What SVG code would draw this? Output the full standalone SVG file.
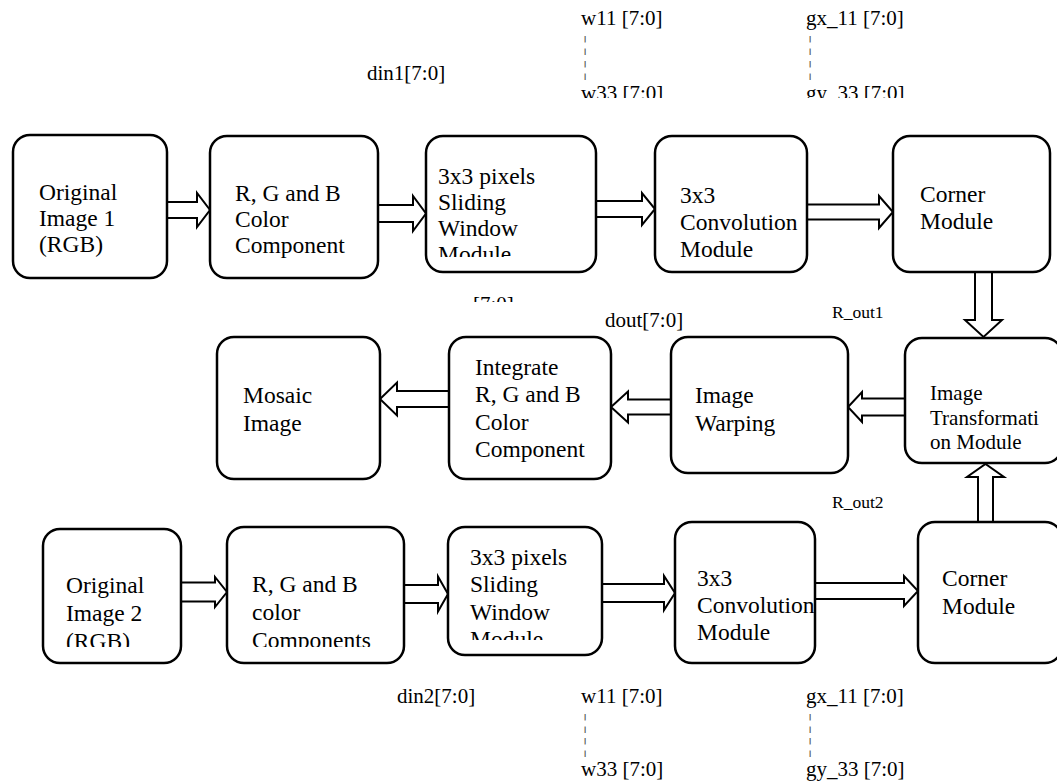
<svg xmlns="http://www.w3.org/2000/svg" width="1057" height="781" viewBox="0 0 1057 781">
<style>
.box{fill:#fff;stroke:#000;stroke-width:2.5}
.arr{fill:#fff;stroke:#000;stroke-width:2;stroke-linejoin:miter}
.t,.s,.r{font-family:"Liberation Serif","Times New Roman",serif;fill:#000}
.t{font-size:23.5px}
.s{font-size:21px}
.r{font-size:17.5px}
.bb{fill:#555}
</style>
<defs>
<clipPath id="cTop"><rect x="0" y="0" width="1057" height="98"/></clipPath>
<clipPath id="cMid"><rect x="440" y="280" width="120" height="22"/></clipPath>
<clipPath id="cC"><rect x="426" y="136" width="170" height="121"/></clipPath>
<clipPath id="cA2"><rect x="43" y="529" width="138" height="118"/></clipPath>
<clipPath id="cB2"><rect x="227" y="527" width="177" height="120"/></clipPath>
<clipPath id="cC2"><rect x="448" y="527" width="154" height="113"/></clipPath>
</defs>
<rect width="1057" height="781" fill="#fff"/>

<g id="labels">
<text class="s" x="367" y="80">din1[7:0]</text>
<g clip-path="url(#cTop)">
<text class="s"><tspan x="581" y="24.5">w11 [7:0]</tspan><tspan class="bb" x="583" y="49.5">¦</tspan><tspan class="bb" x="583" y="74.5">¦</tspan><tspan x="581" y="99.5">w33 [7:0]</tspan></text>
<text class="s"><tspan x="806" y="24.5">gx_11 [7:0]</tspan><tspan class="bb" x="808" y="49.5">¦</tspan><tspan class="bb" x="808" y="74.5">¦</tspan><tspan x="806" y="99.5">gy_33 [7:0]</tspan></text>
</g>
<g clip-path="url(#cMid)"><text class="s" x="473" y="311">[7:0]</text></g>
<text class="s" x="605" y="327">dout[7:0]</text>
<text class="r" x="832" y="318">R_out1</text>
<text class="r" x="832" y="508">R_out2</text>
<text class="s" x="397" y="703">din2[7:0]</text>
<text class="s"><tspan x="581" y="703">w11 [7:0]</tspan><tspan class="bb" x="583" y="727.5">¦</tspan><tspan class="bb" x="583" y="752">¦</tspan><tspan x="581" y="776">w33 [7:0]</tspan></text>
<text class="s"><tspan x="806" y="703">gx_11 [7:0]</tspan><tspan class="bb" x="808" y="727.5">¦</tspan><tspan class="bb" x="808" y="752">¦</tspan><tspan x="806" y="776">gy_33 [7:0]</tspan></text>
</g>

<g id="connectors">
<path class="arr" d="M167,202 L197,202 L197,193 L210,210 L197,227 L197,218 L167,218"/>
<path class="arr" d="M378,205 L413,205 L413,196 L426,213.5 L413,231 L413,222 L378,222"/>
<path class="arr" d="M596,201 L642,201 L642,193 L655,209 L642,225 L642,217 L596,217"/>
<path class="arr" d="M807,204.5 L879,204.5 L879,196 L893,212 L879,228 L879,219.5 L807,219.5"/>
<path class="arr" d="M975,272 L975,320 L965,320 L983.5,337 L1002,320 L992,320 L992,272"/>
<path class="arr" d="M905,398.5 L862,398.5 L862,392 L848,407 L862,422 L862,415.5 L905,415.5"/>
<path class="arr" d="M670,399.5 L628,399.5 L628,391.5 L611,407 L628,422.5 L628,414.5 L670,414.5"/>
<path class="arr" d="M449,391 L397,391 L397,382.5 L380,399 L397,415.5 L397,407 L449,407"/>
<path class="arr" d="M978,522 L978,477 L967,477 L985.5,464 L1004,477 L993,477 L993,522"/>
<path class="arr" d="M181,582.5 L215,582.5 L215,577 L227,592 L215,607 L215,601.5 L181,601.5"/>
<path class="arr" d="M404,585 L438,585 L438,576.5 L448,594 L438,611.5 L438,603 L404,603"/>
<path class="arr" d="M602,584 L664,584 L664,576 L675,593 L664,610 L664,602 L602,602"/>
<path class="arr" d="M815,583 L904,583 L904,576 L918,591 L904,606 L904,599 L815,599"/>
</g>

<g id="orig1">
<rect class="box" x="13" y="135" width="154" height="143" rx="17"/>
<text class="t"><tspan x="39" y="200">Original</tspan><tspan x="39" y="226">Image 1</tspan><tspan x="39" y="252">(RGB)</tspan></text>
</g>
<g id="rgb1">
<rect class="box" x="210" y="136" width="168" height="142" rx="17"/>
<text class="t"><tspan x="235" y="201">R, G and B</tspan><tspan x="235" y="227">Color</tspan><tspan x="235" y="253">Component</tspan></text>
</g>
<g id="slide1">
<rect class="box" x="426" y="136" width="170" height="136" rx="17"/>
<g clip-path="url(#cC)"><text class="t"><tspan x="438" y="184">3x3 pixels</tspan><tspan x="438" y="210">Sliding</tspan><tspan x="438" y="236">Window</tspan><tspan x="438" y="262">Module</tspan></text></g>
</g>
<g id="conv1">
<rect class="box" x="655" y="136" width="152" height="136" rx="17"/>
<text class="t"><tspan x="680" y="203">3x3</tspan><tspan x="680" y="230">Convolution</tspan><tspan x="680" y="257">Module</tspan></text>
</g>
<g id="corner1">
<rect class="box" x="893" y="136" width="157" height="136" rx="17"/>
<text class="t"><tspan x="920" y="202">Corner</tspan><tspan x="920" y="229">Module</tspan></text>
</g>

<g id="mosaic">
<rect class="box" x="217" y="337" width="163" height="142" rx="17"/>
<text class="t"><tspan x="243" y="403">Mosaic</tspan><tspan x="243" y="431">Image</tspan></text>
</g>
<g id="integrate">
<rect class="box" x="449" y="337" width="162" height="142" rx="17"/>
<text class="t"><tspan x="475" y="375">Integrate</tspan><tspan x="475" y="402">R, G and B</tspan><tspan x="475" y="430">Color</tspan><tspan x="475" y="457">Component</tspan></text>
</g>
<g id="warping">
<rect class="box" x="671" y="337" width="177" height="136" rx="17"/>
<text class="t"><tspan x="695" y="403">Image</tspan><tspan x="695" y="431">Warping</tspan></text>
</g>
<g id="transform">
<rect class="box" x="905" y="338" width="157" height="125" rx="17"/>
<text class="s"><tspan x="930" y="400">Image</tspan><tspan x="930" y="425">Transformati</tspan><tspan x="930" y="449">on Module</tspan></text>
</g>

<g id="orig2">
<rect class="box" x="43" y="529" width="138" height="134" rx="17"/>
<g clip-path="url(#cA2)"><text class="t"><tspan x="66" y="593">Original</tspan><tspan x="66" y="621">Image 2</tspan><tspan x="66" y="649">(RGB)</tspan></text></g>
</g>
<g id="rgb2">
<rect class="box" x="227" y="527" width="177" height="136" rx="17"/>
<g clip-path="url(#cB2)"><text class="t"><tspan x="252" y="592">R, G and B</tspan><tspan x="252" y="620">color</tspan><tspan x="252" y="648">Components</tspan></text></g>
</g>
<g id="slide2">
<rect class="box" x="448" y="527" width="154" height="128" rx="17"/>
<g clip-path="url(#cC2)"><text class="t"><tspan x="470" y="565">3x3 pixels</tspan><tspan x="470" y="592">Sliding</tspan><tspan x="470" y="620">Window</tspan><tspan x="470" y="647">Module</tspan></text></g>
</g>
<g id="conv2">
<rect class="box" x="675" y="522" width="140" height="141" rx="17"/>
<text class="t"><tspan x="697" y="586">3x3</tspan><tspan x="697" y="613">Convolution</tspan><tspan x="697" y="640">Module</tspan></text>
</g>
<g id="corner2">
<rect class="box" x="918" y="522" width="144" height="141" rx="17"/>
<text class="t"><tspan x="942" y="586">Corner</tspan><tspan x="942" y="614">Module</tspan></text>
</g>
</svg>
